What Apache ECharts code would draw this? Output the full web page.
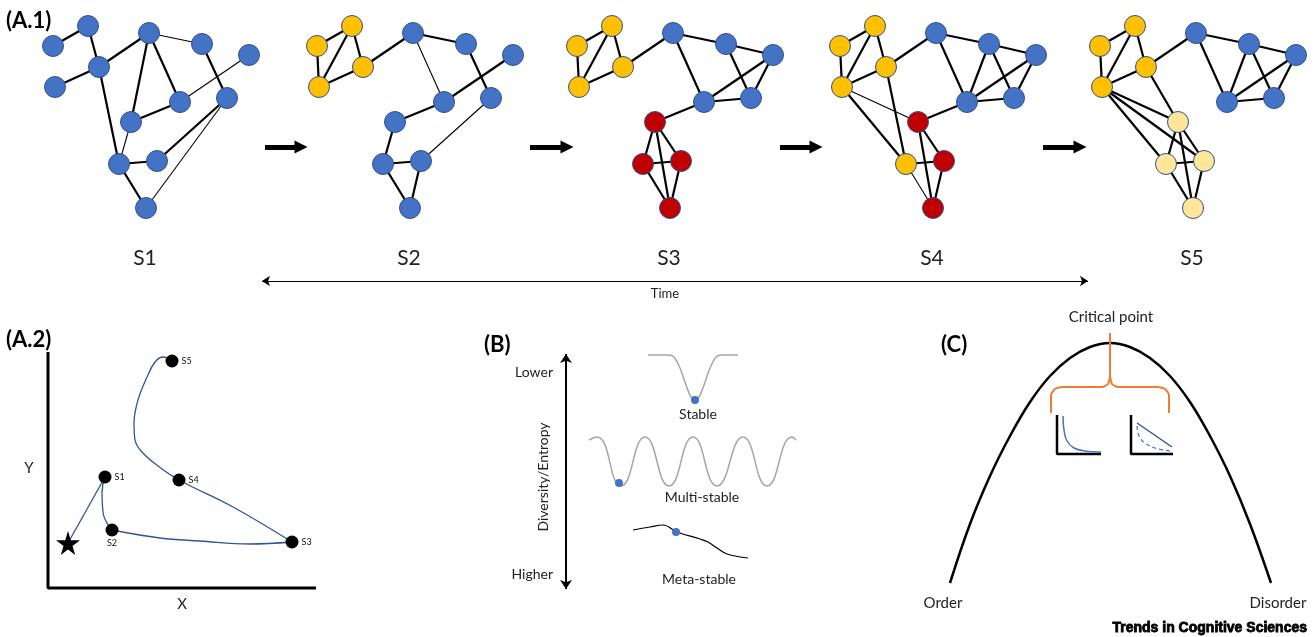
<!DOCTYPE html>
<html>
<head>
<meta charset="utf-8">
<script src="https://cdn.jsdelivr.net/npm/echarts/dist/echarts.min.js"></script>
<style>
  html, body { margin: 0; padding: 0; background: #fff; }
  #chart { width: 1315px; height: 637px; }
</style>
</head>
<body>
<div id="chart"></div>
<script>
// 全图使用像素坐标系（x 向右，y 向下）
const FONT = 'Lato, "Open Sans", sans-serif';

// ---- (A.1) 五个网络快照：共用同一节点布局 ----
const netNodes = [[53,46],[88,26],[99,67],[55,87],[149,33],[202,44],[249,55],[180,102],[227,98],[131,122],[119,164],[157,161],[146,208]];
const netOffsets = [0, 264, 524, 787, 1047];
const netNames = ['S1', 'S2', 'S3', 'S4', 'S5'];
// b 蓝, y 橙黄, r 红, p 浅黄
const netStates = ['bbbbbbbbbbbbb', 'yyyybbbbbbbbb', 'yyyybbbbbrrrr', 'yyyybbbbbryrr', 'yyyybbbbbpppp'];
// [源, 目标, 弱连接=1]
const netEdges = [
  [[0,1],[1,2],[3,2],[2,4],[2,10],[4,5,1],[4,9],[4,7],[5,8],[6,7,1],[7,9],[9,10,1],[10,11],[11,8],[8,12,1],[10,12]],
  [[0,1],[1,3],[1,2],[0,3],[3,2],[2,4],[4,5],[4,7,1],[5,8],[6,7],[7,9],[9,10],[10,11],[11,8,1],[10,12],[11,12]],
  [[0,1],[1,3],[1,2],[0,3],[3,2],[2,4],[4,5],[4,7],[5,6],[5,8],[6,7],[6,8],[7,8],[7,9],[9,10],[9,11],[9,12],[10,11],[10,12],[11,12]],
  [[0,1],[1,3],[1,2],[0,3],[3,2],[2,4],[4,5],[4,7],[5,7],[5,6],[5,8],[6,7],[6,8],[7,8],[7,9],[3,9,1],[3,10],[2,10],[9,11],[9,12],[10,11],[10,12,1],[11,12]],
  [[0,1],[1,3],[1,2],[0,3],[3,2],[2,4],[4,5],[4,7],[5,7],[5,6],[5,8],[6,7],[6,8],[7,8],[2,9],[3,9],[3,11],[3,10],[9,10],[9,11],[9,12],[10,11],[10,12],[11,12]]
];
const stateColor = { b: '#4472C4', y: '#FFC000', r: '#C00000', p: '#FFE699' };

// 快照之间的箭头 [x起, x箭尖, y]
const stepArrows = [[265,307,147],[530,573,147],[780,822,147],[1043,1086,147]];
const timeArrow = [[262,281],[1088,281]];

// ---- (A.2) 状态轨迹 ----
const a2Axes = [[48,352],[48,588],[316,588]];
const a2Start = [68,543];
const a2States = [['S1',105,477],['S2',112,530],['S3',292,542],['S4',179,480],['S5',172,361]];
const a2Path1 = [[68,543],[105,477]];
const a2Path2 = [[105,477],[102,493],[103,512],[112,530]];
const a2Path3 = [[112,530],[160,538],[200,541],[250,544],[292,542]];
const a2Path4 = [[292,542],[233,507],[179,480],[158,466],[142,452],[135,440],[134,423],[138,400],[147,377],[155,362],[163,357],[172,361]];

// ---- (B) 势能景观 ----
const bArrow = [[566,354],[566,589]];
const stableCurve = [[648,355],[668,355],[674,357],[680,368],[686,385],[691,397],[695,400],[699,397],[704,385],[710,368],[716,357],[722,355],[738,355]];
const multiCurve = [[589,440],[597,437],[621,486],[645,437],[669,486],[693,437],[717,486],[743,437],[767,486],[792,437],[796,440]];
const metaCurve = [[633,530],[650,527],[663,525],[677,532],[700,539],[708,542],[717,548],[727,554],[748,558]];
const bBalls = [[695,400],[619,483],[676,532]];

// ---- (C) 临界点 ----
const parabola = [[950,583],[970,524],[990,476],[1010,436],[1030,402],[1050,376],[1070,358],[1090,347],[1110,343],
                  [1130,347],[1150,358],[1170,376],[1190,402],[1210,436],[1230,476],[1250,524],[1271,583]];
const braceLeft = [[1051,413],[1051,395],[1055,389],[1062,387],[1102,387],[1108,384],[1110,376],[1110,333]];
const braceRight = [[1110,376],[1112,384],[1118,387],[1158,387],[1165,389],[1169,395],[1169,413]];
const inset1Axes = [[1057,415],[1057,454],[1101,454]];
const inset1Curve = [[1063,416],[1064,430],[1067,441],[1074,448],[1085,451],[1101,452]];
const inset2Axes = [[1131,415],[1131,454],[1173,454]];
const inset2Solid = [[1137,423],[1172,447]];
const inset2Dashed = [[1137,426],[1139,436],[1145,443],[1155,448],[1170,451]];

function curve(points, color, width, extra) {
  return Object.assign({
    type: 'line',
    data: points,
    showSymbol: false,
    symbol: 'none',
    silent: true,
    lineStyle: { color: color, width: width },
    z: 2
  }, extra || {});
}

function txt(x, y, text, size, opts) {
  opts = opts || {};
  const style = {
    text: text,
    fill: opts.color || '#222',
    font: (opts.bold ? 'bold ' : '') + size + 'px ' + (opts.family || FONT),
    textAlign: opts.align || 'center',
    textVerticalAlign: 'middle'
  };
  if (opts.heavy) {
    style.stroke = opts.color || '#000';
    style.lineWidth = 0.8;
  }
  return { type: 'text', x: x, y: y, rotation: opts.rotation || 0, silent: true, style: style };
}

const series = [];

// 网络
netStates.forEach(function (st, k) {
  series.push({
    type: 'graph',
    coordinateSystem: 'cartesian2d',
    silent: true,
    symbolSize: 21,
    z: 3,
    data: netNodes.map(function (p, i) {
      return {
        value: [p[0] + netOffsets[k], p[1]],
        itemStyle: { color: stateColor[st[i]], borderColor: '#2F528F', borderWidth: 1 }
      };
    }),
    links: netEdges[k].map(function (e) {
      return { source: e[0], target: e[1], lineStyle: { width: e[2] ? 1.1 : 2.2 } };
    }),
    lineStyle: { color: '#000', opacity: 1, curveness: 0 },
    label: { show: false }
  });
});

// 箭头
series.push({
  type: 'lines',
  coordinateSystem: 'cartesian2d',
  silent: true,
  symbol: ['none', 'triangle'],
  symbolSize: 13,
  lineStyle: { color: '#000', width: 5, opacity: 1 },
  data: stepArrows.map(function (a) { return { coords: [[a[0], a[2]], [a[1] - 6, a[2]]] }; })
});
series.push({
  type: 'lines',
  coordinateSystem: 'cartesian2d',
  silent: true,
  symbol: ['arrow', 'arrow'],
  symbolSize: 8,
  lineStyle: { color: '#000', width: 1.2, opacity: 1 },
  data: [{ coords: timeArrow }]
});
series.push({
  type: 'lines',
  coordinateSystem: 'cartesian2d',
  silent: true,
  symbol: ['arrow', 'arrow'],
  symbolSize: 9,
  lineStyle: { color: '#000', width: 2, opacity: 1 },
  data: [{ coords: bArrow }]
});

// (A.2)
series.push(curve(a2Axes, '#000', 3));
series.push(curve(a2Path1, '#2F5597', 1.3));
series.push(curve(a2Path2, '#2F5597', 1.3, { smooth: 0.5 }));
series.push(curve(a2Path3, '#2F5597', 1.3, { smooth: 0.4 }));
series.push(curve(a2Path4, '#2F5597', 1.3, { smooth: 0.4 }));
series.push({
  type: 'scatter',
  silent: true,
  z: 4,
  symbol: 'path://M50,0 L61,35 L98,35 L68,57 L79,91 L50,70 L21,91 L32,57 L2,35 L39,35 Z',
  symbolSize: 24,
  itemStyle: { color: '#000', opacity: 1 },
  data: [a2Start]
});
series.push({
  type: 'scatter',
  silent: true,
  z: 4,
  symbolSize: 13,
  itemStyle: { color: '#000', opacity: 1 },
  label: {
    show: true, formatter: '{b}', position: 'right', distance: 3,
    fontSize: 9, fontFamily: FONT, color: '#111'
  },
  data: a2States.map(function (s) {
    const item = { name: s[0], value: [s[1], s[2]] };
    if (s[0] === 'S2') item.label = { position: 'bottom', distance: 2 };
    return item;
  })
});

// (B)
series.push(curve(stableCurve, '#A6A6A6', 1.5, { smooth: 0.3 }));
series.push(curve(multiCurve, '#A6A6A6', 1.5, { smooth: 0.5 }));
series.push(curve(metaCurve, '#000', 1.2, { smooth: 0.4 }));
series.push({
  type: 'scatter',
  silent: true,
  z: 4,
  symbolSize: 8,
  itemStyle: { color: '#4472C4', opacity: 1 },
  data: bBalls
});

// (C)
series.push(curve(parabola, '#000', 2.5, { smooth: 0.4 }));
series.push(curve(braceLeft, '#ED7D31', 2, { smooth: 0.2 }));
series.push(curve(braceRight, '#ED7D31', 2, { smooth: 0.2 }));
series.push(curve(inset1Axes, '#000', 2.5));
series.push(curve(inset1Curve, '#4472C4', 1.5, { smooth: 0.4 }));
series.push(curve(inset2Axes, '#000', 2.5));
series.push(curve(inset2Solid, '#2F5597', 1.5));
series.push(curve(inset2Dashed, '#4472C4', 1.2, { smooth: 0.4, lineStyle: { color: '#4472C4', width: 1.2, type: [4, 3] } }));

// 文本
const texts = [
  txt(6, 21, '(A.1)', 22, { bold: true, align: 'left', color: '#000' }),
  txt(6, 340, '(A.2)', 22, { bold: true, align: 'left', color: '#000' }),
  txt(484, 345, '(B)', 22, { bold: true, align: 'left', color: '#000' }),
  txt(941, 345, '(C)', 22, { bold: true, align: 'left', color: '#000' }),
  txt(665, 294, 'Time', 13),
  txt(29, 468, 'Y', 15),
  txt(182, 604, 'X', 15),
  txt(553, 372, 'Lower', 14, { align: 'right' }),
  txt(553, 574, 'Higher', 14, { align: 'right' }),
  txt(543, 477, 'Diversity/Entropy', 14, { rotation: Math.PI / 2 }),
  txt(698, 414, 'Stable', 14),
  txt(702, 497, 'Multi-stable', 14),
  txt(699, 579, 'Meta-stable', 14),
  txt(1111, 317, 'Critical point', 15),
  txt(943, 603, 'Order', 15),
  txt(1278, 603, 'Disorder', 15),
  txt(1307, 628, 'Trends in Cognitive Sciences', 14,
      { bold: true, heavy: true, align: 'right', color: '#000', family: '"Liberation Sans Narrow", "Liberation Sans", sans-serif' })
];
netNames.forEach(function (n, k) {
  texts.push(txt(netOffsets[k] + 145, 258, n, 21));
});

const chart = echarts.init(document.getElementById('chart'), null, { renderer: 'canvas' });
chart.setOption({
  animation: false,
  backgroundColor: '#fff',
  grid: { left: 0, right: 0, top: 0, bottom: 0 },
  xAxis: { type: 'value', min: 0, max: 1315, show: false },
  yAxis: { type: 'value', min: 0, max: 637, inverse: true, show: false },
  graphic: texts,
  series: series
});
</script>
</body>
</html>
